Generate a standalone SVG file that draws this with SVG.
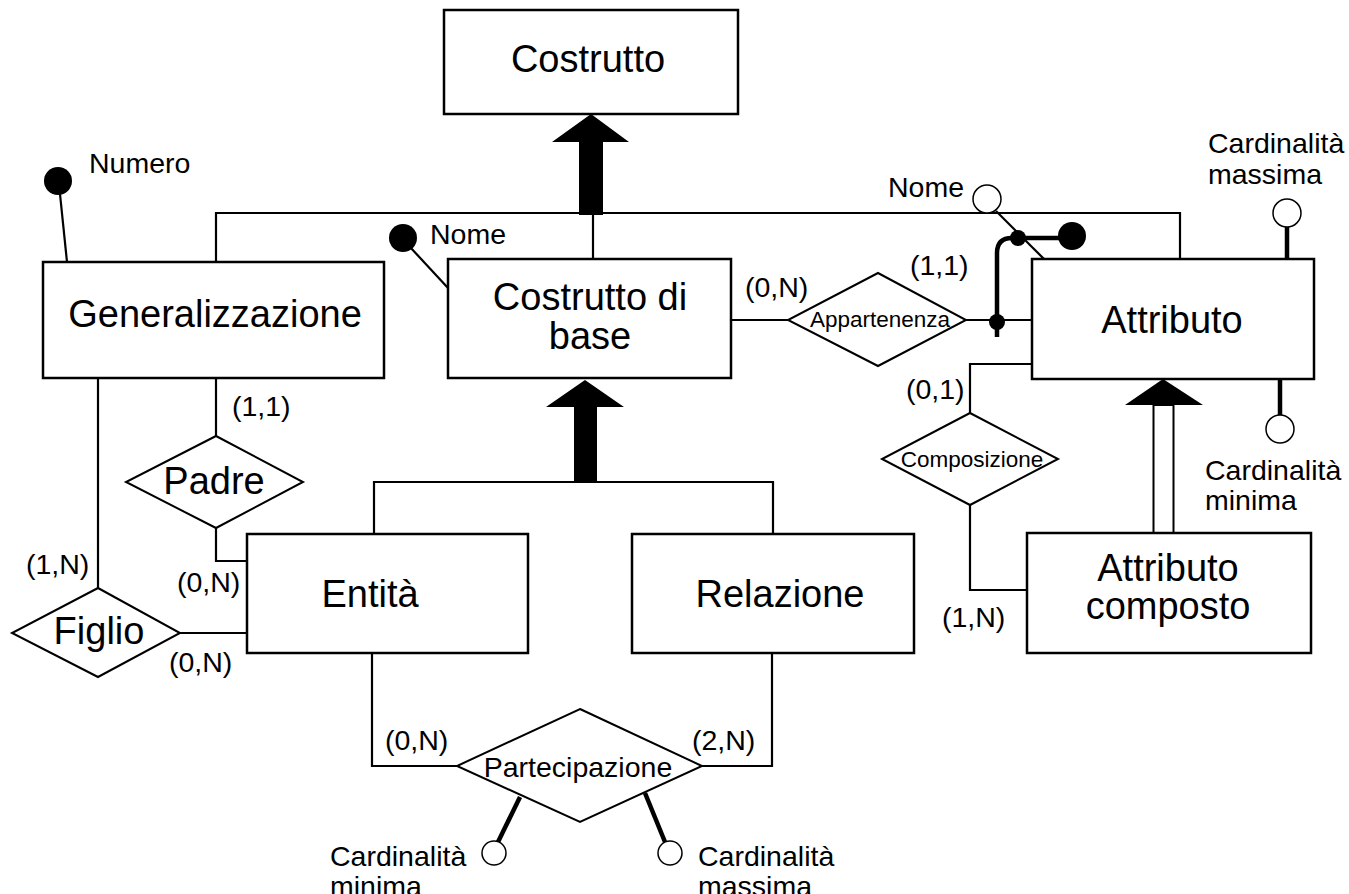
<svg xmlns="http://www.w3.org/2000/svg" width="1349" height="894" viewBox="0 0 1349 894">
  <style>
    .box { fill: #fff; stroke: #000; stroke-width: 2.5; }
    .rel { fill: #fff; stroke: #000; stroke-width: 2; }
    .ln { fill: none; stroke: #000; stroke-width: 2.2; }
    .thick { fill: none; stroke: #000; stroke-width: 4.5; }
    .big { font-family: "Liberation Sans", Arial, sans-serif; font-size: 38px; fill: #000; text-anchor: middle; }
    .mid { font-family: "Liberation Sans", Arial, sans-serif; font-size: 28.5px; fill: #000; }
    .sm { font-family: "Liberation Sans", Arial, sans-serif; font-size: 22.5px; fill: #000; text-anchor: middle; }
    .hollow { fill: #fff; stroke: #000; stroke-width: 1.5; }
  </style>

  <!-- connectors -->
  <g id="connectors">
    <!-- generalization hierarchy under Costrutto -->
    <polyline class="ln" points="216,262 216,213 1180,213 1180,259"/>
    <line class="ln" x1="593" y1="213" x2="593" y2="259"/>
    <polygon points="591,114 552,142 579,142 579,215 603,215 603,142 629,142" fill="#000"/>

    <!-- hierarchy under Costrutto di base -->
    <polyline class="ln" points="374,534 374,482 773,482 773,534"/>
    <polygon points="585,380 546,407 574,407 574,483 597,483 597,407 624,407" fill="#000"/>

    <!-- Attributo composto is-a Attributo -->
    <polygon points="1163,379 1125,405 1203,405" fill="#000"/>
    <rect x="1153.5" y="405" width="20" height="128" fill="#fff" stroke="#000" stroke-width="2"/>

    <!-- Padre -->
    <line class="ln" x1="216" y1="378" x2="216" y2="436"/>
    <polyline class="ln" points="216,528 216,561 247,561"/>
    <!-- Figlio -->
    <line class="ln" x1="98" y1="378" x2="98" y2="588"/>
    <line class="ln" x1="180" y1="633" x2="247" y2="633"/>
    <!-- Partecipazione -->
    <polyline class="ln" points="372,653 372,766 457,766"/>
    <polyline class="ln" points="772,653 772,766 702,766"/>
    <!-- Appartenenza -->
    <line class="ln" x1="731" y1="320" x2="788" y2="320"/>
    <line class="ln" x1="966" y1="320" x2="1032" y2="320"/>
    <!-- Composizione -->
    <polyline class="ln" points="970,413 970,364 1032,364"/>
    <polyline class="ln" points="970,505 970,590 1027,590"/>

    <!-- attribute stems -->
    <line class="ln" x1="60" y1="194" x2="67" y2="262"/>
    <line class="ln" x1="410" y1="247" x2="448" y2="288"/>
    <line class="ln" x1="996" y1="211" x2="1044" y2="259"/>
    <line class="thick" x1="1287" y1="227" x2="1287" y2="259"/>
    <line class="thick" x1="1280" y1="379" x2="1280" y2="415"/>
    <line class="thick" x1="520" y1="797" x2="498" y2="842"/>
    <line class="thick" x1="645" y1="793" x2="665" y2="842"/>

    <!-- composite identifier of Attributo -->
    <path class="thick" d="M997,337 V253 Q997,238 1012,238 H1072"/>
    <circle cx="1018" cy="238" r="8" fill="#000"/>
    <circle cx="997" cy="322" r="8" fill="#000"/>
  </g>

  <!-- entities -->
  <g id="costrutto">
    <rect class="box" x="444" y="10" width="294" height="104"/>
    <text class="big" x="588" y="72">Costrutto</text>
  </g>
  <g id="generalizzazione">
    <rect class="box" x="43" y="262" width="341" height="116"/>
    <text class="big" x="215" y="327">Generalizzazione</text>
  </g>
  <g id="costrutto-di-base">
    <rect class="box" x="448" y="259" width="283" height="119"/>
    <text class="big" x="590" y="310">Costrutto di</text>
    <text class="big" x="590" y="349">base</text>
  </g>
  <g id="attributo">
    <rect class="box" x="1032" y="259" width="282" height="120"/>
    <text class="big" x="1172" y="333">Attributo</text>
  </g>
  <g id="entita">
    <rect class="box" x="247" y="534" width="281" height="119"/>
    <text class="big" x="370" y="607">Entità</text>
  </g>
  <g id="relazione">
    <rect class="box" x="632" y="534" width="282" height="119"/>
    <text class="big" x="780" y="607">Relazione</text>
  </g>
  <g id="attributo-composto">
    <rect class="box" x="1027" y="533" width="284" height="120"/>
    <text class="big" x="1168" y="581">Attributo</text>
    <text class="big" x="1168" y="619">composto</text>
  </g>

  <!-- relationships -->
  <g id="padre">
    <polygon class="rel" points="216,436 303,482 216,528 126,482"/>
    <text class="big" x="214" y="494">Padre</text>
  </g>
  <g id="figlio">
    <polygon class="rel" points="98,588 180,633 98,677 12,633"/>
    <text class="big" x="99" y="644">Figlio</text>
  </g>
  <g id="appartenenza">
    <polygon class="rel" points="878,273 966,320 878,366 788,320"/>
    <text class="sm" x="880" y="327">Appartenenza</text>
  </g>
  <g id="composizione">
    <polygon class="rel" points="970,413 1058,459 970,505 882,459"/>
    <text class="sm" x="972" y="467">Composizione</text>
  </g>
  <g id="partecipazione">
    <polygon class="rel" points="580,709 702,766 580,822 457,766"/>
    <text class="mid" x="578" y="777" text-anchor="middle">Partecipazione</text>
  </g>

  <!-- attributes -->
  <g id="attr-numero">
    <circle cx="58" cy="181" r="14" fill="#000"/>
    <text class="mid" x="89" y="173">Numero</text>
  </g>
  <g id="attr-nome-base">
    <circle cx="403" cy="238" r="14" fill="#000"/>
    <text class="mid" x="430" y="244">Nome</text>
  </g>
  <g id="attr-nome-attributo">
    <circle class="hollow" cx="987" cy="199" r="14"/>
    <text class="mid" x="888" y="197">Nome</text>
  </g>
  <g id="attr-identificatore">
    <circle cx="1072" cy="236" r="14" fill="#000"/>
  </g>
  <g id="attr-card-max">
    <circle class="hollow" cx="1287" cy="213" r="14"/>
    <text class="mid" x="1208" y="153">Cardinalità</text>
    <text class="mid" x="1208" y="184">massima</text>
  </g>
  <g id="attr-card-min">
    <circle class="hollow" cx="1280" cy="429" r="14"/>
    <text class="mid" x="1205" y="480">Cardinalità</text>
    <text class="mid" x="1205" y="510">minima</text>
  </g>
  <g id="attr-part-min">
    <circle class="hollow" cx="494" cy="853" r="12"/>
    <text class="mid" x="330" y="866">Cardinalità</text>
    <text class="mid" x="330" y="896">minima</text>
  </g>
  <g id="attr-part-max">
    <circle class="hollow" cx="670" cy="853" r="12"/>
    <text class="mid" x="698" y="866">Cardinalità</text>
    <text class="mid" x="698" y="896">massima</text>
  </g>

  <!-- cardinalities -->
  <g id="cardinalities" class="mid">
    <text x="232" y="416">(1,1)</text>
    <text x="26" y="574">(1,N)</text>
    <text x="177" y="592">(0,N)</text>
    <text x="169" y="672">(0,N)</text>
    <text x="385" y="750">(0,N)</text>
    <text x="692" y="750">(2,N)</text>
    <text x="745" y="297">(0,N)</text>
    <text x="910" y="275">(1,1)</text>
    <text x="906" y="399">(0,1)</text>
    <text x="942" y="627">(1,N)</text>
  </g>
</svg>
